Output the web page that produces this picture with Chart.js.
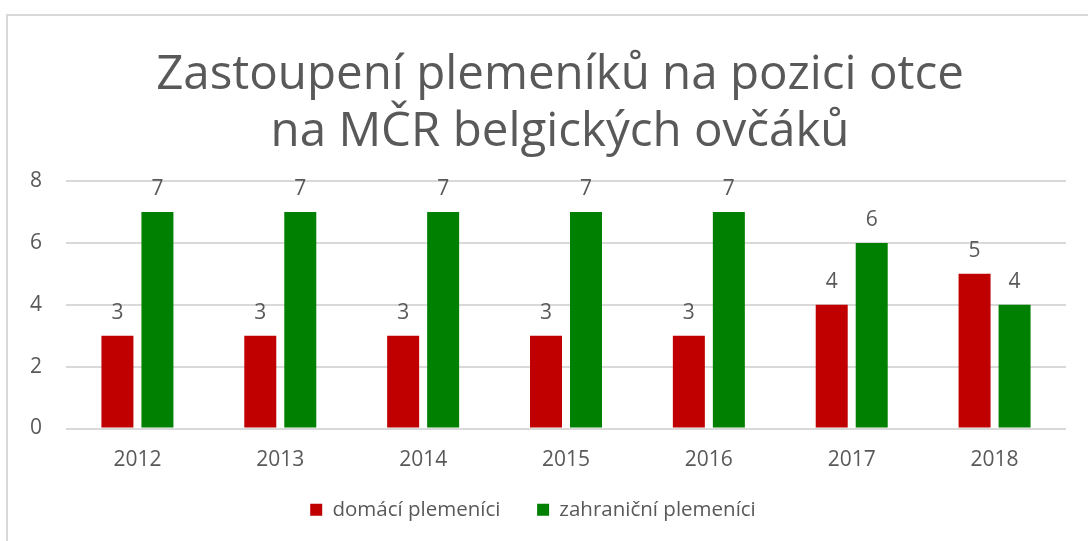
<!DOCTYPE html>
<html>
<head>
<meta charset="utf-8">
<script src="https://cdn.jsdelivr.net/npm/chart.js@4.4.0/dist/chart.umd.min.js"></script>
<style>
  html, body { margin: 0; padding: 0; background: #fff; }
  #wrap { position: relative; width: 1088px; height: 541px; overflow: hidden; }
  #frame { position: absolute; left: 6px; top: 14px; width: 2000px; height: 1000px;
           border-left: 2px solid #d9d9d9; border-top: 2px solid #d9d9d9; }
  canvas { position: absolute; left: 0; top: 0; }
</style>
</head>
<body>
<div id="wrap">
  <div id="frame"></div>
  <canvas id="chart" width="1088" height="541"></canvas>
</div>
<script>
// chart data
var years = ['2012', '2013', '2014', '2015', '2016', '2017', '2018'];
var domaci = [3, 3, 3, 3, 3, 4, 5];
var zahranicni = [7, 7, 7, 7, 7, 6, 4];
var seriesNames = ['domácí plemeníci', 'zahraniční plemeníci'];
var titleLines = ['Zastoupení plemeníků na pozici otce', 'na MČR belgických ovčáků'];

var FONT = "'Open Sans', 'Noto Sans', sans-serif";
var GREY = '#595959';

// value labels above each bar + title centred like the original
var barLabels = {
    id: 'barLabels',
    afterDatasetsDraw: function (chart) {
        var ctx = chart.ctx;
        ctx.save();
        ctx.font = '21px ' + FONT;
        ctx.fillStyle = GREY;
        ctx.textAlign = 'center';
        ctx.textBaseline = 'middle';
        chart.data.datasets.forEach(function (ds, i) {
            chart.getDatasetMeta(i).data.forEach(function (bar, j) {
                ctx.fillText(ds.data[j], bar.x, bar.y - 23);
            });
        });

        // title
        ctx.font = '47.5px ' + FONT;
        titleLines.forEach(function (line, k) {
            ctx.fillText(line, 560, 75 + k * 57);
        });
        ctx.restore();
    }
};

new Chart(document.getElementById('chart'), {
    type: 'bar',
    data: {
        labels: years,
        datasets: [
            { label: seriesNames[0], data: domaci, backgroundColor: '#C00000' },
            { label: seriesNames[1], data: zahranicni, backgroundColor: '#008000' }
        ]
    },
    options: {
        responsive: false,
        animation: false,
        layout: { padding: { top: 181, right: 22, left: 0, bottom: 11 } },
        datasets: { bar: { categoryPercentage: 0.56, barPercentage: 0.8 } },
        plugins: {
            title: { display: false },
            legend: {
                position: 'bottom',
                labels: {
                    color: GREY,
                    font: { family: FONT, size: 20.5 },
                    boxWidth: 12,
                    boxHeight: 12,
                    padding: 10,
                    // wider gap between the two legend entries
                    generateLabels: function (chart) {
                        var items = Chart.defaults.plugins.legend.labels.generateLabels(chart);
                        items[0].text = items[0].text + '     ';
                        return items;
                    }
                }
            },
            tooltip: { enabled: false }
        },
        scales: {
            x: {
                afterFit: function (scale) { scale.height = 61; },
                grid: { display: false, drawTicks: false },
                border: { display: false },
                ticks: { color: GREY, font: { family: FONT, size: 21 }, padding: 19 }
            },
            y: {
                min: 0,
                max: 8,
                afterFit: function (scale) { scale.width = 66; },
                grid: { color: '#d9d9d9', lineWidth: 2, drawTicks: false },
                border: { display: false },
                ticks: { stepSize: 2, color: GREY, font: { family: FONT, size: 21 }, padding: 24 }
            }
        }
    },
    plugins: [barLabels]
});
</script>
</body>
</html>
